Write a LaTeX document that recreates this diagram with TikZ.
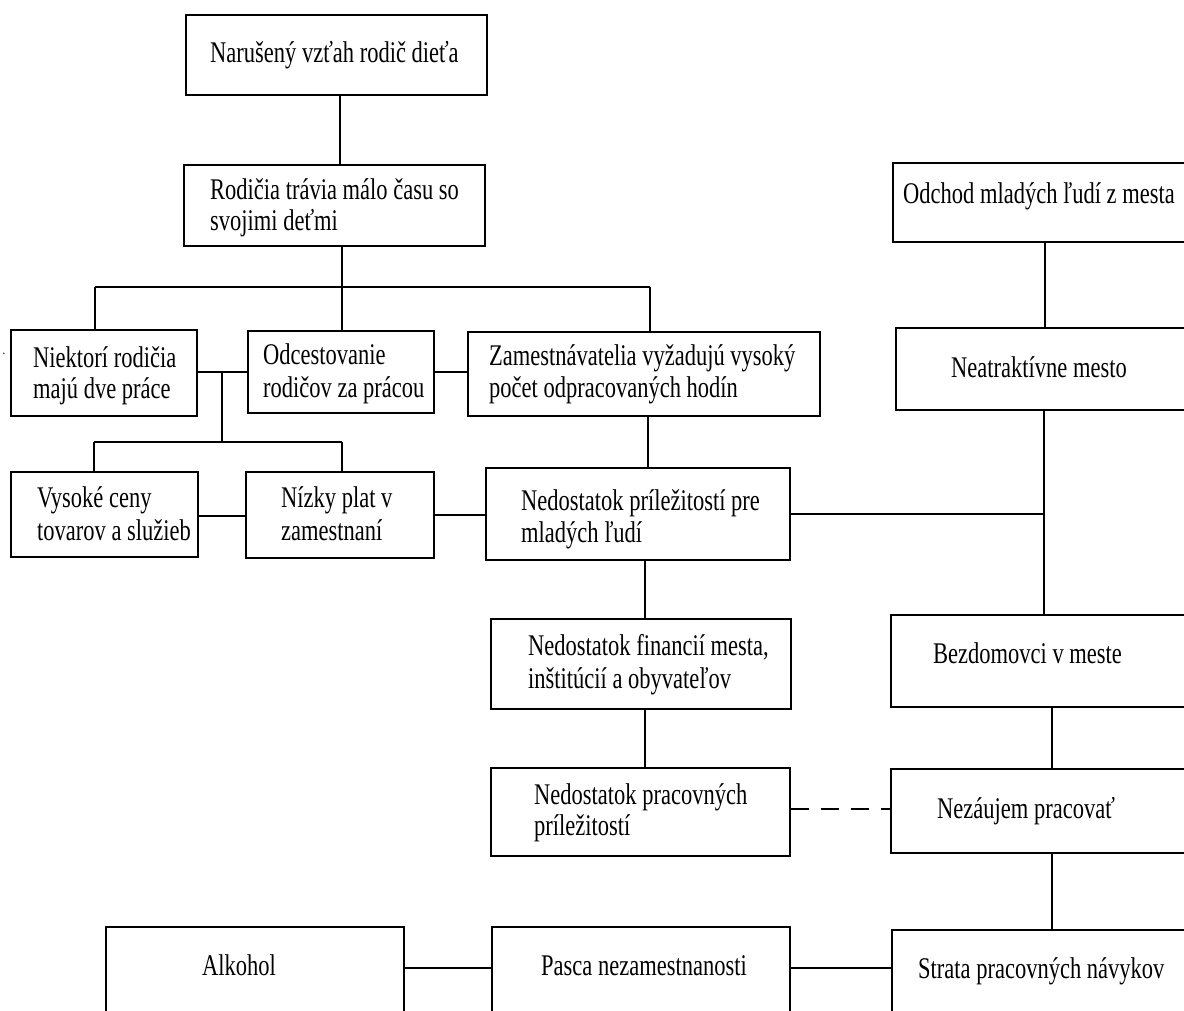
\documentclass[tikz,border=0pt]{standalone}
\usepackage{fontspec}
\setmainfont[FakeStretch=0.75]{Liberation Serif}
\begin{document}
\begin{tikzpicture}[x=1pt,y=-1pt,
  box/.style={draw, line width=1.1pt, inner sep=0pt, rectangle},
  txt/.style={anchor=base west, inner sep=0pt, font=\fontsize{30}{31}\selectfont},
  link/.style={line width=1.1pt},
  dlink/.style={line width=1.1pt, dash pattern=on 18pt off 12pt}]
\useasboundingbox (0,0) rectangle (1184,1010);
\clip (0,0) rectangle (1184,1010);
% boxes
\node[box, minimum width=301pt, minimum height=80pt] (A) at (336.5,55) {};
\node[box, minimum width=301pt, minimum height=81pt] (B) at (334.5,205.5) {};
\node[box, minimum width=186pt, minimum height=86pt] (C) at (104,373) {};
\node[box, minimum width=186pt, minimum height=82pt] (D) at (341,372) {};
\node[box, minimum width=352pt, minimum height=84pt] (E) at (644,374) {};
\node[box, minimum width=187pt, minimum height=85pt] (F) at (104.5,514.5) {};
\node[box, minimum width=188pt, minimum height=86pt] (G) at (340,515) {};
\node[box, minimum width=304pt, minimum height=92pt] (H) at (638,514) {};
\node[box, minimum width=300pt, minimum height=90pt] (I) at (641,664) {};
\node[box, minimum width=299pt, minimum height=88pt] (K) at (640.5,812) {};
\node[box, minimum width=307pt, minimum height=79pt] (O) at (1046.5,202.5) {};
\node[box, minimum width=304pt, minimum height=82pt] (N) at (1048,369) {};
\node[box, minimum width=309pt, minimum height=92pt] (J) at (1045.5,661) {};
\node[box, minimum width=309pt, minimum height=84pt] (L) at (1045.5,811) {};
\node[box, minimum width=308pt, minimum height=100pt] (M) at (1046,980) {};
\node[box, minimum width=298pt, minimum height=103pt] (Alk) at (255,978.5) {};
\node[box, minimum width=298pt, minimum height=103pt] (P) at (641,978.5) {};
% texts
\node[txt] (tA1) at (210,62) {Narušený vzťah rodič dieťa};
\node[txt] (tB1) at (210,199) {Rodičia trávia málo času so};
\node[txt] (tB2) at (210,230) {svojimi deťmi};
\node[txt] (tC1) at (33,367) {Niektorí rodičia};
\node[txt] (tC2) at (33,398) {majú dve práce};
\node[txt] (tD1) at (263,364) {Odcestovanie};
\node[txt] (tD2) at (263,397) {rodičov za prácou};
\node[txt] (tE1) at (489,365) {Zamestnávatelia vyžadujú vysoký};
\node[txt] (tE2) at (489,397) {počet odpracovaných hodín};
\node[txt] (tF1) at (37,507) {Vysoké ceny};
\node[txt] (tF2) at (37,540) {tovarov a služieb};
\node[txt] (tG1) at (281,507) {Nízky plat v};
\node[txt] (tG2) at (281,540) {zamestnaní};
\node[txt] (tH1) at (521,510) {Nedostatok príležitostí pre};
\node[txt] (tH2) at (521,542) {mladých ľudí};
\node[txt] (tI1) at (528,655) {Nedostatok financií mesta,};
\node[txt] (tI2) at (528,688) {inštitúcií a obyvateľov};
\node[txt] (tK1) at (534,804) {Nedostatok pracovných};
\node[txt] (tK2) at (534,835) {príležitostí};
\node[txt] (tO1) at (903,203) {Odchod mladých ľudí z mesta};
\node[txt] (tN1) at (951,377) {Neatraktívne mesto};
\node[txt] (tJ1) at (933,663) {Bezdomovci v meste};
\node[txt] (tL1) at (937,818) {Nezáujem pracovať};
\node[txt] (tAlk1) at (202,975) {Alkohol};
\node[txt] (tP1) at (541,975) {Pasca nezamestnanosti};
\node[txt] (tM1) at (918,978) {Strata pracovných návykov};
\node[anchor=base, inner sep=0pt, font=\fontsize{14}{14}\selectfont] (dot) at (4,354) {.};
% helper coordinates
\coordinate (xab) at (340,0);
\coordinate (t1) at (342,287);
\coordinate (tL) at (95,287);
\coordinate (tR) at (650,287);
\coordinate (j1) at (222,372);
\coordinate (j2) at (222,442);
\coordinate (fL) at (94,442);
\coordinate (fR) at (342,442);
\coordinate (fg) at (0,516);
\coordinate (gh) at (0,515);
\coordinate (eh) at (648,0);
\coordinate (on) at (1045,0);
\coordinate (sp) at (1044,0);
\coordinate (hi) at (645,0);
\coordinate (jl) at (1052,0);
\coordinate (kl) at (0,809);
\coordinate (bl) at (0,968);
% connectors
\draw[link] (A.south -| xab) -- (B.north -| xab);
\draw[link] (B.south -| t1) -- (t1);
\draw[link] (tL) -- (tR);
\draw[link] (tL) -- (C.north -| tL);
\draw[link] (t1) -- (D.north -| t1);
\draw[link] (tR) -- (E.north -| tR);
\draw[link] (C.east |- j1) -- (D.west |- j1);
\draw[link] (j1) -- (j2);
\draw[link] (fL) -- (fR);
\draw[link] (fL) -- (F.north -| fL);
\draw[link] (fR) -- (G.north -| fR);
\draw[link] (D.east) -- (E.west |- D.east);
\draw[link] (F.east |- fg) -- (G.west |- fg);
\draw[link] (G.east |- gh) -- (H.west |- gh);
\draw[link] (E.south -| eh) -- (H.north -| eh);
\draw[link] (O.south -| on) -- (N.north -| on);
\draw[link] (N.south -| sp) -- (J.north -| sp);
\draw[link] (H.east) -- (H.east -| sp);
\draw[link] (H.south -| hi) -- (I.north -| hi);
\draw[link] (I.south -| hi) -- (K.north -| hi);
\draw[link] (J.south -| jl) -- (L.north -| jl);
\draw[link] (L.south -| jl) -- (M.north -| jl);
\draw[dlink] (K.east |- kl) -- (L.west |- kl);
\draw[link] (Alk.east |- bl) -- (P.west |- bl);
\draw[link] (P.east |- bl) -- (M.west |- bl);
\end{tikzpicture}
\end{document}
